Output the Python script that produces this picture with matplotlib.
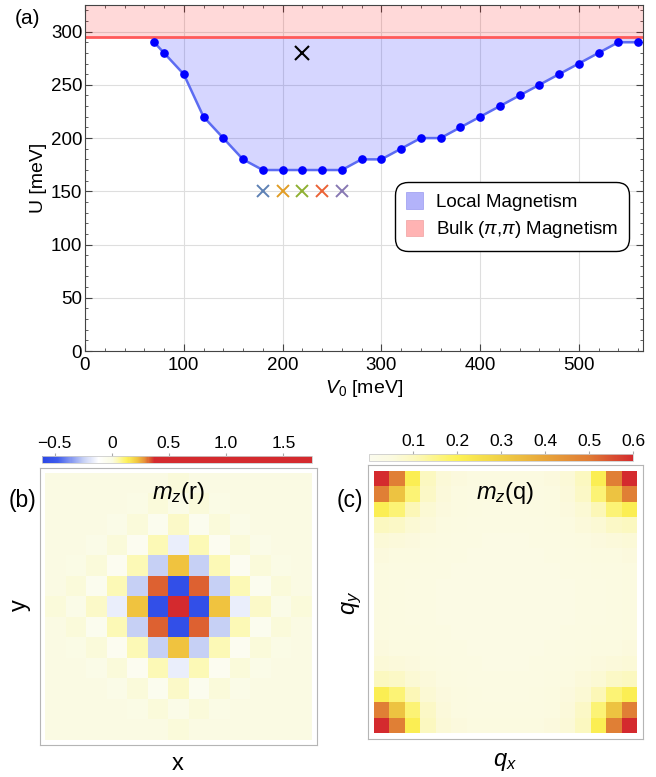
import matplotlib
matplotlib.use("Agg")
import matplotlib.pyplot as plt
import numpy as np
from matplotlib.colors import LinearSegmentedColormap, Normalize
from matplotlib.cm import ScalarMappable
from matplotlib.patches import Patch
from matplotlib.ticker import MultipleLocator

plt.rcParams.update(
    {
        "font.family": ["Liberation Sans", "DejaVu Sans"],
        "mathtext.fontset": "custom",
        "mathtext.rm": "Liberation Sans",
        "mathtext.it": "Liberation Sans:italic",
        "mathtext.bf": "Liberation Sans:bold",
    }
)

# ---- panel (a): phase boundary ----
V0 = [70, 80, 100, 120, 140, 160, 180, 200, 220, 240, 260, 280, 300,
      320, 340, 360, 380, 400, 420, 440, 460, 480, 500, 520, 540, 560]
U = [290, 280, 260, 220, 200, 180, 170, 170, 170, 170, 170, 180, 180,
     190, 200, 200, 210, 220, 230, 240, 250, 260, 270, 280, 290, 290]
U_BULK = 295
CROSS_V0 = [180, 200, 220, 240, 260]
CROSS_U = [150, 150, 150, 150, 150]
CROSS_COLORS = ["#5e81b5", "#e19c24", "#8fb032", "#eb6235", "#8778b3"]
BLACK_CROSS = (220, 280)

# ---- panel (b): m_z(r), 13x13 ----
MZ_R = [
    [0.0, 0.0, 0.0, 0.0, 0.0, 0.0, 0.01, 0.0, 0.0, 0.0, 0.0, 0.0, 0.0],
    [0.0, 0.0, 0.0, 0.0, -0.01, 0.01, -0.02, 0.01, -0.01, 0.0, 0.0, 0.0, 0.0],
    [0.0, 0.0, 0.005, -0.02, 0.015, -0.04, 0.03, -0.04, 0.015, -0.02, 0.005, 0.0, 0.0],
    [0.0, 0.0, -0.02, 0.01, -0.05, 0.05, -0.16, 0.05, -0.05, 0.01, -0.02, 0.0, 0.0],
    [0.0, -0.01, 0.015, -0.05, 0.05, -0.25, 0.22, -0.25, 0.05, -0.05, 0.015, -0.01, 0.0],
    [0.0, 0.01, -0.04, 0.05, -0.25, 0.33, -0.55, 0.33, -0.25, 0.05, -0.04, 0.01, 0.0],
    [0.01, -0.02, 0.03, -0.16, 0.22, -0.55, 1.70, -0.55, 0.22, -0.16, 0.03, -0.02, 0.01],
    [0.0, 0.01, -0.04, 0.05, -0.25, 0.33, -0.55, 0.33, -0.25, 0.05, -0.04, 0.01, 0.0],
    [0.0, -0.01, 0.015, -0.05, 0.05, -0.25, 0.22, -0.25, 0.05, -0.05, 0.015, -0.01, 0.0],
    [0.0, 0.0, -0.02, 0.01, -0.05, 0.05, -0.16, 0.05, -0.05, 0.01, -0.02, 0.0, 0.0],
    [0.0, 0.0, 0.005, -0.02, 0.015, -0.04, 0.03, -0.04, 0.015, -0.02, 0.005, 0.0, 0.0],
    [0.0, 0.0, 0.0, 0.0, -0.01, 0.01, -0.02, 0.01, -0.01, 0.0, 0.0, 0.0, 0.0],
    [0.0, 0.0, 0.0, 0.0, 0.0, 0.0, 0.01, 0.0, 0.0, 0.0, 0.0, 0.0, 0.0],
]
R_TICKS = [-0.5, 0, 0.5, 1.0, 1.5]
R_TICKLABELS = ["\u22120.5", "0", "0.5", "1.0", "1.5"]
R_RANGE = (-0.61, 1.75)
R_NODES = [(-0.61, "#2a46e6"), (-0.48, "#3f5cec"), (-0.25, "#c6d0f5"),
           (-0.12, "#ffffff"), (0.0, "#fafbe4"), (0.05, "#fdf9b4"),
           (0.13, "#fdf25e"), (0.22, "#f1c640"), (0.29, "#e6903a"),
           (0.33, "#dc5a30"), (0.37, "#d42a2e"), (1.75, "#d42a2e")]

# ---- panel (c): m_z(q), 17x17 ----
MZ_Q = [
    [0.60, 0.49, 0.21, 0.10, 0.065, 0.055, 0.05, 0.05, 0.05, 0.05, 0.05, 0.055, 0.065, 0.10, 0.21, 0.49, 0.60],
    [0.49, 0.33, 0.17, 0.09, 0.06, 0.05, 0.045, 0.045, 0.045, 0.045, 0.045, 0.05, 0.06, 0.09, 0.17, 0.33, 0.49],
    [0.21, 0.17, 0.11, 0.07, 0.055, 0.05, 0.045, 0.04, 0.04, 0.04, 0.045, 0.05, 0.055, 0.07, 0.11, 0.17, 0.21],
    [0.10, 0.09, 0.07, 0.06, 0.05, 0.045, 0.04, 0.04, 0.04, 0.04, 0.04, 0.045, 0.05, 0.06, 0.07, 0.09, 0.10],
    [0.065, 0.06, 0.055, 0.05, 0.045, 0.04, 0.04, 0.035, 0.035, 0.035, 0.04, 0.04, 0.045, 0.05, 0.055, 0.06, 0.065],
    [0.055, 0.05, 0.05, 0.045, 0.04, 0.04, 0.035, 0.035, 0.035, 0.035, 0.035, 0.04, 0.04, 0.045, 0.05, 0.05, 0.055],
    [0.05, 0.045, 0.045, 0.04, 0.04, 0.035, 0.035, 0.035, 0.035, 0.035, 0.035, 0.035, 0.04, 0.04, 0.045, 0.045, 0.05],
    [0.05, 0.045, 0.04, 0.04, 0.035, 0.035, 0.035, 0.035, 0.035, 0.035, 0.035, 0.035, 0.035, 0.04, 0.04, 0.045, 0.05],
    [0.05, 0.045, 0.04, 0.04, 0.035, 0.035, 0.035, 0.035, 0.035, 0.035, 0.035, 0.035, 0.035, 0.04, 0.04, 0.045, 0.05],
    [0.05, 0.045, 0.04, 0.04, 0.035, 0.035, 0.035, 0.035, 0.035, 0.035, 0.035, 0.035, 0.035, 0.04, 0.04, 0.045, 0.05],
    [0.05, 0.045, 0.045, 0.04, 0.04, 0.035, 0.035, 0.035, 0.035, 0.035, 0.035, 0.035, 0.04, 0.04, 0.045, 0.045, 0.05],
    [0.055, 0.05, 0.05, 0.045, 0.04, 0.04, 0.035, 0.035, 0.035, 0.035, 0.035, 0.04, 0.04, 0.045, 0.05, 0.05, 0.055],
    [0.065, 0.06, 0.055, 0.05, 0.045, 0.04, 0.04, 0.035, 0.035, 0.035, 0.04, 0.04, 0.045, 0.05, 0.055, 0.06, 0.065],
    [0.10, 0.09, 0.07, 0.06, 0.05, 0.045, 0.04, 0.04, 0.04, 0.04, 0.04, 0.045, 0.05, 0.06, 0.07, 0.09, 0.10],
    [0.21, 0.17, 0.11, 0.07, 0.055, 0.05, 0.045, 0.04, 0.04, 0.04, 0.045, 0.05, 0.055, 0.07, 0.11, 0.17, 0.21],
    [0.49, 0.33, 0.17, 0.09, 0.06, 0.05, 0.045, 0.045, 0.045, 0.045, 0.045, 0.05, 0.06, 0.09, 0.17, 0.33, 0.49],
    [0.60, 0.49, 0.21, 0.10, 0.065, 0.055, 0.05, 0.05, 0.05, 0.05, 0.05, 0.055, 0.065, 0.10, 0.21, 0.49, 0.60],
]
Q_TICKS = [0.1, 0.2, 0.3, 0.4, 0.5, 0.6]
Q_TICKLABELS = ["0.1", "0.2", "0.3", "0.4", "0.5", "0.6"]
Q_RANGE = (0.0, 0.6)
Q_NODES = [(0.0, "#fbfbee"), (0.05, "#fbfae0"), (0.1, "#fcf8c0"),
           (0.2, "#fdf255"), (0.3, "#f0d045"), (0.4, "#e8a53a"),
           (0.5, "#e07c35"), (0.6, "#d42a2e")]

W, H = 656, 777


def box(x0, y0, x1, y1):
    # pixel box (top-left origin) -> figure fraction rect
    return [x0 / W, 1 - y1 / H, (x1 - x0) / W, (y1 - y0) / H]


def make_cmap(nodes, vrange):
    lo, hi = vrange
    return LinearSegmentedColormap.from_list(
        "c", [((v - lo) / (hi - lo), c) for v, c in nodes])


fig = plt.figure(figsize=(W / 100, H / 100), dpi=100)

# ---------------- (a) ----------------
ax = fig.add_axes(box(85, 5, 643, 351))
ax.set_xlim(0, 565)
ax.set_ylim(0, 325)
ax.axhspan(U_BULK, 325, color=(1, 0, 0), alpha=0.15, lw=0, zorder=1)
ax.axhline(U_BULK, color="#ff5a5a", lw=2, zorder=2)
ax.fill_between(V0, U, U_BULK, color=(0, 0, 1), alpha=0.16, lw=0, zorder=1)
ax.plot(V0, U, color="#5c6cf2", lw=1.8, zorder=3)
ax.plot(V0, U, "o", color="#0000ff", ms=5.2, zorder=4)
ax.plot(*BLACK_CROSS, "x", color="black", ms=9.5, mew=1.5, zorder=5)
for x, y, c in zip(CROSS_V0, CROSS_U, CROSS_COLORS):
    ax.plot(x, y, "x", color=c, ms=9, mew=1.4, zorder=5)

ax.grid(True, color="#dedede", lw=0.8)
ax.set_axisbelow(True)
ax.xaxis.set_major_locator(MultipleLocator(100))
ax.xaxis.set_minor_locator(MultipleLocator(20))
ax.yaxis.set_major_locator(MultipleLocator(50))
ax.yaxis.set_minor_locator(MultipleLocator(10))
ax.tick_params(which="both", direction="in", top=True, right=True,
               color="#444444", labelsize=13.5)
ax.tick_params(which="major", length=5)
ax.tick_params(which="minor", length=2.5)
ax.tick_params(axis="x", pad=4)
ax.tick_params(axis="y", pad=2)
for s in ax.spines.values():
    s.set_color("#444444")
ax.set_xlabel("$V_0$ [meV]", fontsize=14, labelpad=3)
ax.set_ylabel("U [meV]", fontsize=14, labelpad=3)

handles = [Patch(facecolor="#b3b3fa", edgecolor="#9a9af0", lw=0.5, label="Local Magnetism"),
           Patch(facecolor="#ffb3b3", edgecolor="#f0a0a0", lw=0.5,
                 label=r"Bulk ($\mathit{\pi}$,$\mathit{\pi}$) Magnetism")]
leg = ax.legend(handles=handles, loc="upper left", bbox_to_anchor=(0.556, 0.488),
                borderaxespad=0, fontsize=13.5, frameon=True, fancybox=True,
                handlelength=0.95, handleheight=0.95, handletextpad=0.7,
                labelspacing=0.45, borderpad=0.55, framealpha=1)
leg.get_frame().set_edgecolor("black")
leg.get_frame().set_linewidth(1.0)
leg.get_frame().set_boxstyle("round,pad=0,rounding_size=0.7")

fig.text(27 / W, 1 - 18 / H, "(a)", fontsize=15, ha="center", va="center")

# ---------------- (b) ----------------
cmap_r = make_cmap(R_NODES, R_RANGE)
norm_r = Normalize(*R_RANGE)
axb = fig.add_axes(box(40, 468, 317, 745))
nb = len(MZ_R)
axb.imshow(np.array(MZ_R), cmap=cmap_r, norm=norm_r, interpolation="nearest",
           extent=(-0.5, nb - 0.5, nb - 0.5, -0.5), aspect="auto")
pad = 0.25
axb.set_xlim(-0.5 - pad, nb - 0.5 + pad)
axb.set_ylim(nb - 0.5 + pad, -0.5 - pad)
axb.set_xticks([])
axb.set_yticks([])
for s in axb.spines.values():
    s.set_color("#b5b5b5")
axb.text(0.5, 0.955, "$m_z$(r)", transform=axb.transAxes, fontsize=17,
         ha="center", va="top")

cax_b = fig.add_axes(box(42, 456, 312, 463))
cb = fig.colorbar(ScalarMappable(norm=norm_r, cmap=cmap_r), cax=cax_b,
                  orientation="horizontal", ticks=R_TICKS)
cb.ax.xaxis.set_ticks_position("top")
cb.ax.set_xticklabels(R_TICKLABELS)
cb.ax.tick_params(labelsize=12.5, length=2, color="#aaaaaa", pad=1.5)
cb.outline.set_edgecolor("#cccccc")
cb.outline.set_linewidth(0.6)

fig.text(22 / W, 1 - 500 / H, "(b)", fontsize=16.5, ha="center", va="center")
fig.text(20 / W, 1 - 605 / H, "y", fontsize=17, ha="center", va="center", rotation=90)
fig.text(178 / W, 1 - 764 / H, "x", fontsize=17, ha="center", va="center")

# ---------------- (c) ----------------
cmap_q = make_cmap(Q_NODES, Q_RANGE)
norm_q = Normalize(*Q_RANGE)
axc = fig.add_axes(box(368, 465, 643, 739))
nq = len(MZ_Q)
axc.imshow(np.array(MZ_Q), cmap=cmap_q, norm=norm_q, interpolation="nearest",
           extent=(-0.5, nq - 0.5, nq - 0.5, -0.5), aspect="auto")
pad = 0.4
axc.set_xlim(-0.5 - pad, nq - 0.5 + pad)
axc.set_ylim(nq - 0.5 + pad, -0.5 - pad)
axc.set_xticks([])
axc.set_yticks([])
for s in axc.spines.values():
    s.set_color("#b5b5b5")
axc.text(0.5, 0.945, "$m_z$(q)", transform=axc.transAxes, fontsize=17,
         ha="center", va="top")

cax_c = fig.add_axes(box(369, 454, 633, 461))
cc = fig.colorbar(ScalarMappable(norm=norm_q, cmap=cmap_q), cax=cax_c,
                  orientation="horizontal", ticks=Q_TICKS)
cc.ax.xaxis.set_ticks_position("top")
cc.ax.set_xticklabels(Q_TICKLABELS)
cc.ax.tick_params(labelsize=12.5, length=2, color="#aaaaaa", pad=1.5)
cc.outline.set_edgecolor("#cccccc")
cc.outline.set_linewidth(0.6)

fig.text(350 / W, 1 - 500 / H, "(c)", fontsize=16.5, ha="center", va="center")
fig.text(352 / W, 1 - 603 / H, "$q_y$", fontsize=17, ha="center", va="center", rotation=90)
fig.text(505 / W, 1 - 762 / H, "$q_x$", fontsize=17, ha="center", va="center")

fig.savefig("out.png", dpi=100)
